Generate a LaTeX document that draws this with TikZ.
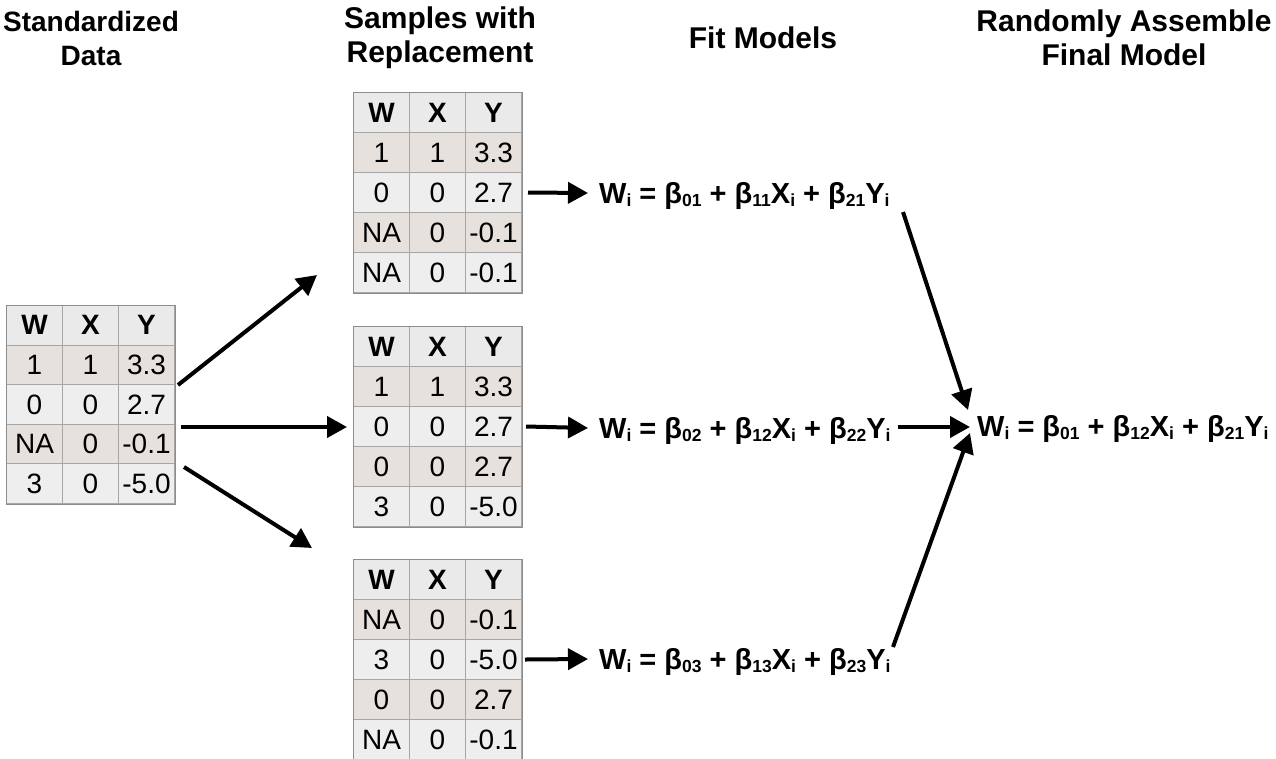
\documentclass[tikz,border=0pt]{standalone}
\usepackage{fontspec}
\setmainfont{Liberation Sans}
\usetikzlibrary{arrows.meta}
\definecolor{hdrfill}{HTML}{EAEAEA}
\definecolor{rowA}{HTML}{E6E1DC}
\definecolor{rowB}{HTML}{EEEEEE}
\definecolor{gridc}{HTML}{A6A6A6}
\tikzset{
  cell/.style={draw=gridc, line width=1pt, inner sep=0pt, minimum width=56pt,
    anchor=north west, font=\fontsize{28}{30}\selectfont},
  arr/.style={line width=4pt, -{Triangle[length=20pt,width=21pt]}},
  title/.style={font=\fontsize{30}{34}\selectfont\bfseries, align=center},
  eqn/.style={font=\fontsize{29}{30}\selectfont\bfseries, inner sep=0pt, anchor=base west},
}
% lowered small index as used in the regression formulas
\newcommand\lowidx[1]{\raisebox{-0.12em}{\fontsize{17.5}{17.5}\selectfont #1}}
% data table: name, left x, top y, row height, rows W/X/Y
\newcommand\datatable[5]{%
  \foreach \ca/\cb/\cc [count=\i from 0] in {#5}{%
    \pgfmathsetmacro\yy{#3+\i*#4}%
    \ifnum\i=0 \def\fc{hdrfill}\def\cf{\bfseries}\else\def\cf{}\ifodd\i\def\fc{rowA}\else\def\fc{rowB}\fi\fi
    \node[cell, fill=\fc, minimum height=#4pt] (#1-\i-1) at (#2,\yy) {\cf\ca};
    \node[cell, fill=\fc, minimum height=#4pt] (#1-\i-2) at (#2+56,\yy) {\cf\cb};
    \node[cell, fill=\fc, minimum height=#4pt] (#1-\i-3) at (#2+112,\yy) {\cf\cc};
  }%
  \draw[gridc!85!black, line width=1pt] (#1-0-1.north west) rectangle (#1-4-3.south east);
}
\begin{document}
\begin{tikzpicture}[x=1pt, y=-1pt]
\useasboundingbox (0,0) rectangle (1276,758);
\fill[white] (0,0) rectangle (1276,758);

% column titles
\node[title, font=\fontsize{28}{34}\selectfont\bfseries] (h1) at (91,38) {Standardized\\Data};
\node[title] (h2) at (440,38) {Samples with\\Replacement};
\node[title] (h3) at (763,38) {Fit Models};
\node[title] (h4) at (1124,38) {Randomly Assemble\\Final Model};

% tables
\datatable{L}{6}{305}{39.6}{W/X/Y, 1/1/3.3, 0/0/2.7, NA/0/-0.1, 3/0/-5.0}
\datatable{S1}{353}{92}{40}{W/X/Y, 1/1/3.3, 0/0/2.7, NA/0/-0.1, NA/0/-0.1}
\datatable{S2}{353}{326}{40}{W/X/Y, 1/1/3.3, 0/0/2.7, 0/0/2.7, 3/0/-5.0}
\datatable{S3}{353}{559}{40}{W/X/Y, NA/0/-0.1, 3/0/-5.0, 0/0/2.7, NA/0/-0.1}

% fitted models
\node[eqn] (eq1) at (599,203) {W\lowidx{i} = β\lowidx{01} + β\lowidx{11}X\lowidx{i} + β\lowidx{21}Y\lowidx{i}};
\node[eqn] (eq2) at (599,438) {W\lowidx{i} = β\lowidx{02} + β\lowidx{12}X\lowidx{i} + β\lowidx{22}Y\lowidx{i}};
\node[eqn] (eq3) at (599,669) {W\lowidx{i} = β\lowidx{03} + β\lowidx{13}X\lowidx{i} + β\lowidx{23}Y\lowidx{i}};
\node[eqn] (fin) at (977,436) {W\lowidx{i} = β\lowidx{01} + β\lowidx{12}X\lowidx{i} + β\lowidx{21}Y\lowidx{i}};

% arrow end points
\coordinate (la) at (178,385);
\coordinate (lb) at (181,427);
\coordinate (lc) at (184,467);
\coordinate (ta) at (317,275);
\coordinate (tb) at (347,427);
\coordinate (tc) at (312,548);
\coordinate (e1in) at (588,193);
\coordinate (e2in) at (588,428);
\coordinate (e3in) at (588,659);
\coordinate (e1out) at (903,212);
\coordinate (e2out) at (898,427);
\coordinate (e3out) at (893,647);
\coordinate (fa) at (968,410);
\coordinate (fb) at (970,427);
\coordinate (fc) at (970,433);

% resampling
\draw[arr] (la) -- (ta);
\draw[arr] (lb) -- (tb);
\draw[arr] (lc) -- (tc);
% fitting
\draw[arr] ([xshift=6pt]S1-2-3.east) -- (e1in);
\draw[arr] ([xshift=4pt]S2-2-3.east) -- (e2in);
\draw[arr] ([xshift=3pt]S3-2-3.east) -- (e3in);
% assembling
\draw[arr] (e1out) -- (fa);
\draw[arr] (e2out) -- (fb);
\draw[arr] (e3out) -- (fc);
\end{tikzpicture}
\end{document}
